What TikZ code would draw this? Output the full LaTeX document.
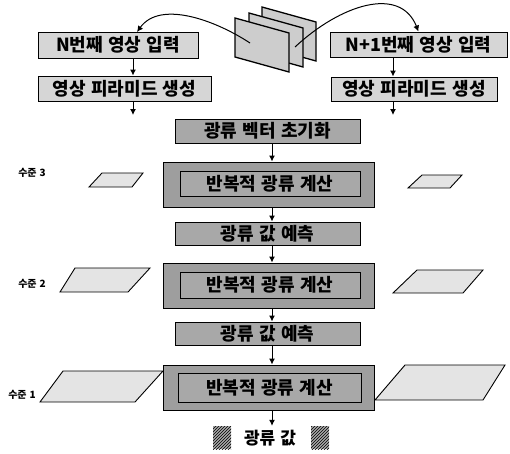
\documentclass[tikz,border=0pt]{standalone}
\usepackage{fontspec}
\setmainfont{Noto Sans CJK KR}[WordSpace=1.3]
\usetikzlibrary{arrows.meta,patterns,calc}
\definecolor{lightbox}{HTML}{D6D6D6}
\definecolor{darkbox}{HTML}{A8A8A8}
\definecolor{outerbox}{HTML}{9E9E9E}
\definecolor{paral}{HTML}{E4E4E4}
\definecolor{sheet}{HTML}{CDCDCD}
\tikzset{
  toplbox/.style={draw=black,line width=1pt,fill=lightbox,inner sep=0pt,font=\bfseries\fontsize{18}{20}\selectfont},
  midbox/.style={draw=black,line width=1pt,fill=darkbox,inner sep=0pt,font=\bfseries\fontsize{18}{20}\selectfont},
  outbox/.style={draw=black,line width=1pt,fill=outerbox,inner sep=0pt},
  lvl/.style={font=\bfseries\fontsize{10}{12}\selectfont,inner sep=0pt},
  pg/.style={draw=black,line width=0.9pt,fill=paral},
  sh/.style={draw=black,line width=1.3pt,fill=sheet},
  arr/.style={line width=1pt,-{Latex[length=6pt,width=6pt]}},
}
\begin{document}
\begin{tikzpicture}[x=1pt,y=-1pt]
\useasboundingbox (0,0) rectangle (510,453);
% frames
\draw[sh] (262,7) -- (316,22) -- (316,61) -- (262,46) -- cycle;
\draw[sh] (249,13) -- (303,28) -- (303,67) -- (249,52) -- cycle;
\draw[sh] (235,18) -- (289,33) -- (289,72) -- (235,57) -- cycle;
\coordinate (fl) at (250,43);
\coordinate (fr) at (295,47);
% top boxes
\node[toplbox,minimum width=160pt,minimum height=26pt] (nin) at (118,45) {N번째 영상 입력};
\node[toplbox,minimum width=173pt,minimum height=25pt] (npy) at (124.5,88.5) {영상 피라미드 생성};
\node[toplbox,minimum width=177pt,minimum height=25pt] (min) at (418.5,44.5) {N+1번째 영상 입력};
\node[toplbox,minimum width=166pt,minimum height=24pt] (mpy) at (414,89) {영상 피라미드 생성};
\coordinate (lx) at (133,0);
\coordinate (rx) at (393,0);
\coordinate (lend) at (133,115);
\coordinate (rend) at (393,115);
\coordinate (nintop) at (137,32);
\draw[arr] (fl) .. controls (215,20) and (160,0) .. (nintop);
\draw[arr] (fr) .. controls (340,5) and (400,-15) .. (min.north);
\draw[arr] (nin.south -| lx) -- (npy.north -| lx);
\draw[arr] (npy.south -| lx) -- (lend);
\draw[arr] (min.south -| rx) -- (mpy.north -| rx);
\draw[arr] (mpy.south -| rx) -- (rend);
% central column
\coordinate (cx) at (272,0);
\node[midbox,minimum width=185pt,minimum height=24pt] (init) at (267.5,131) {광류 벡터 초기화};
\node[outbox,minimum width=211pt,minimum height=45pt] (o3) at (268.5,184.5) {};
\node[midbox,minimum width=180pt,minimum height=25pt] (i3) at (270,183.5) {반복적 광류 계산};
\node[midbox,minimum width=185pt,minimum height=23pt] (p1) at (267.5,233.5) {광류 값 예측};
\node[outbox,minimum width=211pt,minimum height=45pt] (o2) at (268.5,285.5) {};
\node[midbox,minimum width=180pt,minimum height=26pt] (i2) at (270,285) {반복적 광류 계산};
\node[midbox,minimum width=185pt,minimum height=23pt] (p2) at (267.5,333.5) {광류 값 예측};
\node[outbox,minimum width=211pt,minimum height=45pt] (o1) at (268.5,387.5) {};
\node[midbox,minimum width=183pt,minimum height=29pt] (i1) at (269.5,387.5) {반복적 광류 계산};
\draw[arr] (init.south -| cx) -- (o3.north -| cx);
\draw[arr] (o3.south -| cx) -- (p1.north -| cx);
\draw[arr] (p1.south -| cx) -- (o2.north -| cx);
\draw[arr] (o2.south -| cx) -- (p2.north -| cx);
\draw[arr] (p2.south -| cx) -- (o1.north -| cx);
% result
\node[font=\bfseries\fontsize{17}{19}\selectfont,inner sep=0pt] (res) at (270,438) {광류 값};
\draw[arr] (o1.south -| cx) -- ($(res.north -| cx)+(0,-4)$);
\fill[darkbox] (213,426) rectangle (231,449);
\fill[pattern=north east lines] (213,426) rectangle (231,449);
\fill[darkbox] (311,426) rectangle (329,449);
\fill[pattern=north east lines] (311,426) rectangle (329,449);
% levels
\node[lvl] (l3) at (32,173) {수준 3};
\node[lvl] (l2) at (32,284) {수준 2};
\node[lvl] (l1) at (22,395) {수준 1};
% parallelograms
\draw[pg] (102,173) -- (143,173) -- (132,187) -- (89,187) -- cycle;
\draw[pg] (422,175) -- (462,175) -- (450,188) -- (408,188) -- cycle;
\draw[pg] (75,268) -- (150,268) -- (128,292) -- (60,292) -- cycle;
\draw[pg] (417,270) -- (483,270) -- (463,293) -- (393,293) -- cycle;
\draw[pg] (63,371) -- (163,371) -- (135,402) -- (40,402) -- cycle;
\draw[pg] (405,365) -- (505,365) -- (483,400) -- (375,400) -- cycle;
\end{tikzpicture}
\end{document}
